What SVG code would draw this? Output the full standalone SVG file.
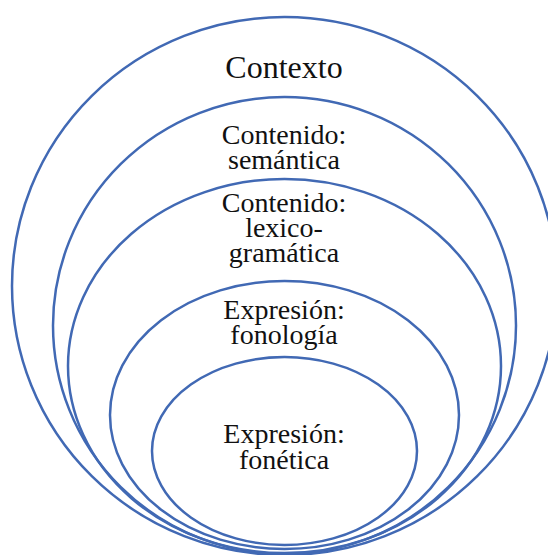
<svg xmlns="http://www.w3.org/2000/svg" width="548" height="555" viewBox="0 0 548 555">
  <style>
    .ring { fill: none; stroke: #4169B4; stroke-width: 2.5; }
    .lbl { font-family: "Liberation Serif", "Times New Roman", serif; font-size: 28px; fill: #111; text-anchor: middle; }
    .big { font-size: 32px; }
  </style>
  <rect width="548" height="555" fill="#fff"/>
  <!-- nested levels, outermost first; all share one centre line and meet near the bottom -->
  <g id="contexto">
    <ellipse class="ring" cx="284.5" cy="286" rx="272.5" ry="269"/>
    <text class="lbl big" x="284" y="78">Contexto</text>
  </g>
  <g id="semantica">
    <ellipse class="ring" cx="284.5" cy="325.5" rx="231.5" ry="228.5"/>
    <text class="lbl" x="284" y="144">Contenido:</text>
    <text class="lbl" x="284" y="169">semántica</text>
  </g>
  <g id="lexicogramatica">
    <ellipse class="ring" cx="284.5" cy="366" rx="216.5" ry="187"/>
    <text class="lbl" x="284" y="212">Contenido:</text>
    <text class="lbl" x="284" y="237">lexico-</text>
    <text class="lbl" x="284" y="262">gramática</text>
  </g>
  <g id="fonologia">
    <ellipse class="ring" cx="284.5" cy="415" rx="174.5" ry="134"/>
    <text class="lbl" x="284" y="319">Expresión:</text>
    <text class="lbl" x="284" y="344">fonología</text>
  </g>
  <g id="fonetica">
    <ellipse class="ring" cx="284.5" cy="451" rx="132.5" ry="94"/>
    <text class="lbl" x="284" y="443">Expresión:</text>
    <text class="lbl" x="284" y="469">fonética</text>
  </g>
  <g id="connectors"/>
</svg>
